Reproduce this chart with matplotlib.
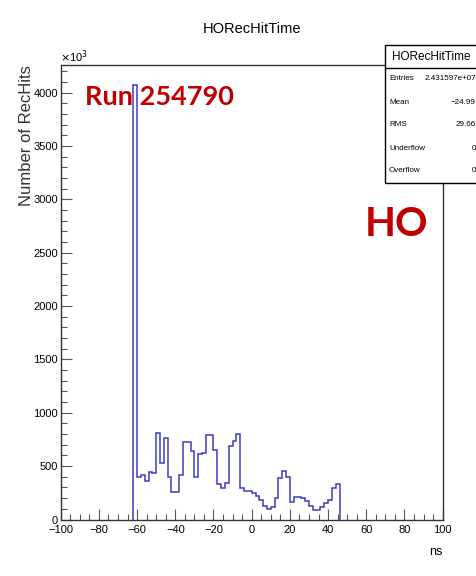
import numpy as np
import matplotlib.pyplot as plt
from matplotlib.patches import Rectangle
from matplotlib.ticker import MultipleLocator

plt.rcParams['font.family'] = ['Liberation Sans', 'DejaVu Sans']

# histogram contents (units of 10^3), 2 ns bins starting at -62 ns
bin_lo = -62
bin_w = 2
counts = [4070, 395, 417, 361, 445, 433, 814, 526, 767, 395, 258,
          261, 420, 729, 729, 645, 401, 611, 620, 789, 789,
          651, 330, 292, 339, 692, 733, 804, 292, 267, 270,
          251, 220, 183, 127, 95, 114, 198, 392, 451, 395,
          167, 208, 208, 198, 173, 130, 89, 89, 120, 152,
          183, 298, 330]

stat_names = ['Entries', 'Mean', 'RMS', 'Underflow', 'Overflow']
stat_vals = ['2.431597e+07', '\u221224.99', '29.66', '0', '0']

W, H = 477, 576
fig = plt.figure(figsize=(W/100, H/100), dpi=100)
ax = fig.add_axes([60.7/W, 1-519.5/H, 382/W, 454.5/H])

edges = bin_lo + bin_w*np.arange(len(counts)+1)
ax.stairs(counts, edges, color='#3c3cc4', linewidth=1.1, zorder=3)

ax.set_xlim(-100, 100)
ax.set_ylim(0, 4260)
ax.xaxis.set_major_locator(MultipleLocator(20))
ax.xaxis.set_minor_locator(MultipleLocator(5))
ax.yaxis.set_major_locator(MultipleLocator(500))
ax.yaxis.set_minor_locator(MultipleLocator(100))
ax.tick_params(which='both', direction='in', top=False, right=False,
               color='#555555', width=0.8, labelsize=8)
ax.tick_params(which='major', length=8)
ax.tick_params(which='minor', length=4)
ax.tick_params(axis='x', pad=4)
ax.tick_params(axis='y', pad=2)
ax.set_xticks([-100, -80, -60, -40, -20, 0, 20, 40, 60, 80, 100])
ax.set_xticklabels(['\u2212100', '\u221280', '\u221260', '\u221240', '\u221220',
                    '0', '20', '40', '60', '80', '100'])
for s in ax.spines.values():
    s.set_linewidth(1.0)
    s.set_color('#333333')

fig.text(252/W, 1-29/H, 'HORecHitTime', ha='center', va='center', fontsize=10.5)
fig.text(60/W, 1-57/H, r'$\times$10$^{3}$', ha='left', va='center', fontsize=8)
fig.text(443/W, 1-552/H, 'ns', ha='right', va='center', fontsize=9)
fig.text(27/W, 1-65/H, 'Number of RecHits', rotation=90, ha='center', va='top',
         fontsize=12, color='#333333')

fig.text(85/W, 1-97/H, 'Run 254790', ha='left', va='center', fontsize=19.5,
         fontweight='bold', color='#c00000', family=['Lato', 'DejaVu Sans'])
fig.text(365/W, 1-225/H, 'HO', ha='left', va='center', fontsize=29,
         fontweight='bold', color='#c00000', family=['Lato', 'DejaVu Sans'])

# stats box
bx0, by0, by1, bsep = 385/W, 1-183/H, 1-45/H, 1-68/H
fig.patches.append(Rectangle((bx0, by0), 1.05-bx0, by1-by0, transform=fig.transFigure,
                             facecolor='white', edgecolor='black', linewidth=1.0, zorder=5))
fig.add_artist(plt.Line2D([bx0, 1.0], [bsep, bsep], transform=fig.transFigure,
                          color='black', linewidth=1.0, zorder=6))
fig.text(431/W, (by1+bsep)/2, 'HORecHitTime', ha='center', va='center', fontsize=8.5, zorder=7)
row_y = [79, 102, 125, 148, 171]
for name, val, yy in zip(stat_names, stat_vals, row_y):
    fig.text(389/W, 1-yy/H, name, ha='left', va='center', fontsize=5.8, zorder=7)
    fig.text(476/W, 1-yy/H, val, ha='right', va='center', fontsize=5.8, zorder=7)

fig.savefig('out.png', dpi=100)
